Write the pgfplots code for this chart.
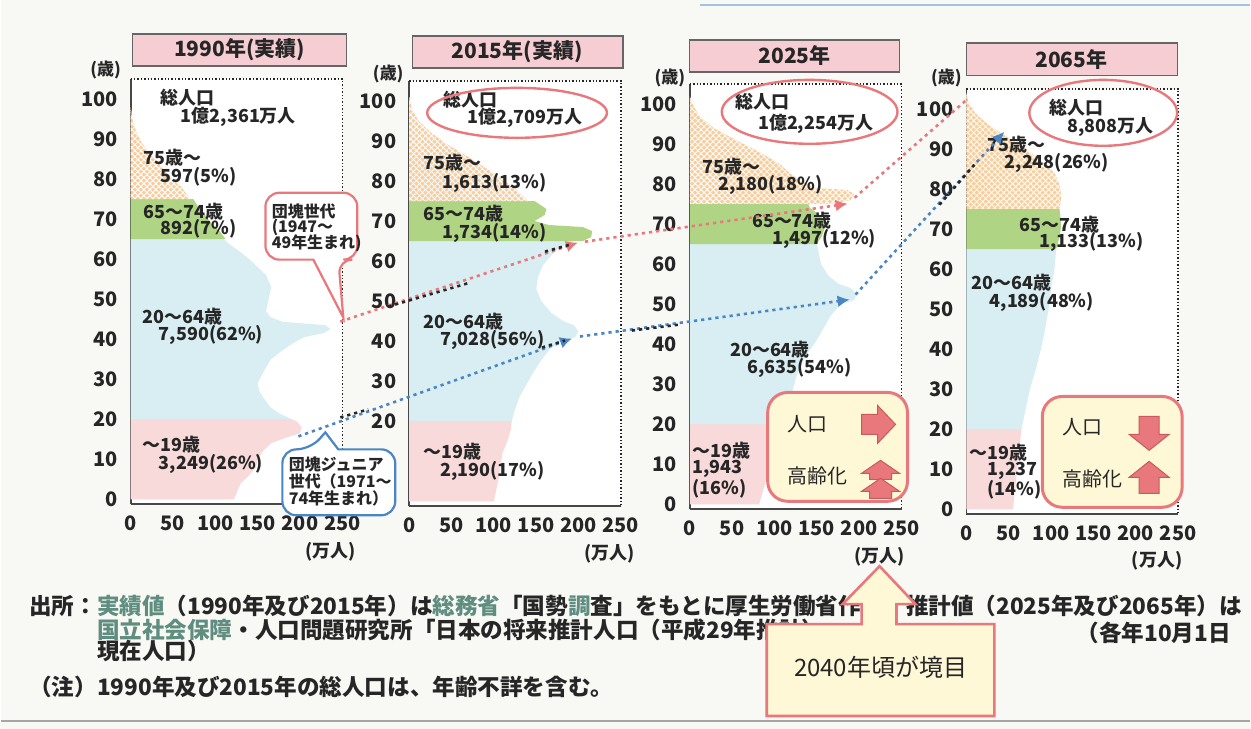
\documentclass[border=0pt]{standalone}
\usepackage{pgfplots}
\pgfplotsset{compat=1.18}
\usepackage{fontspec}
\setmainfont{Noto Sans CJK JP}
\usetikzlibrary{patterns,arrows.meta}
\definecolor{cPink}{HTML}{F9DADB}
\definecolor{cBlue}{HTML}{D8EEF2}
\definecolor{cGreen}{HTML}{AFD584}
\definecolor{cOrange}{HTML}{F8CE9E}
\definecolor{cRed}{HTML}{E8787C}
\definecolor{cRedD}{HTML}{C85A5E}
\definecolor{cArrBlue}{HTML}{4A86C4}
\definecolor{cTitle}{HTML}{F6CDD3}
\definecolor{cYellow}{HTML}{FFF8D6}
\definecolor{cTeal}{HTML}{5F8E80}
\definecolor{cBg}{HTML}{F8F8F5}
\definecolor{cText}{HTML}{262626}
\newcommand{\af}{\fontsize{9}{10}\selectfont\bfseries}
\newcommand{\bff}{\fontsize{8}{9.5}\selectfont\bfseries}
\newcommand{\ff}{\fontsize{11.3}{13}\selectfont\bfseries}
\pgfplotsset{
  pyr/.style={
    scale only axis, width=106pt, height=213pt,
    xmin=0, xmax=250, ymin=-1.25, ymax=105,
    xtick={0,50,...,250}, ytick={0,10,...,100},
    axis x line*=bottom, axis y line*=left,
    axis line style={-, line width=0.9pt, color=cText!85},
    tick style={draw=none},
    /pgf/number format/assume math mode=true,
    ticklabel style={font=\fontsize{10}{12}\selectfont\bfseries, text=cText},
    yticklabel style={xshift=-3pt},
    xticklabel style={yshift=-2pt},
    clip=false,
    axis background/.style={fill=white},
  },
  grp/.style={fill=#1, draw=none},
  orng/.style={fill=cOrange, draw=none, postaction={pattern=crosshatch, pattern color=white}},
}
\begin{document}
\begin{tikzpicture}
\begin{scope}[x=0.5pt,y=-0.5pt]
\fill[cBg] (0,0) rectangle (1251,730);
\draw[cArrBlue!50, line width=1pt] (700,5) -- (1251,5);
\draw[gray!70, line width=0.8pt] (0,722) -- (1251,722);
% title boxes
\draw[fill=cTitle, draw=gray!80!black, line width=0.6pt] (132,34) rectangle (346,66);
\node[font=\fontsize{10.5}{12}\selectfont\bfseries, text=cText] at (239,50) {1990年(実績)};
\draw[fill=cTitle, draw=gray!80!black, line width=0.6pt] (412,36) rectangle (623,68);
\node[font=\fontsize{10.5}{12}\selectfont\bfseries, text=cText] at (517,52) {2015年(実績)};
\draw[fill=cTitle, draw=gray!80!black, line width=0.6pt] (690,40) rectangle (900,72);
\node[font=\fontsize{10.5}{12}\selectfont\bfseries, text=cText] at (795,56) {2025年};
\draw[fill=cTitle, draw=gray!80!black, line width=0.6pt] (967,43) rectangle (1178,76);
\node[font=\fontsize{10.5}{12}\selectfont\bfseries, text=cText] at (1072,60) {2065年};
\end{scope}

% ---------- 1990 ----------
\begin{axis}[pyr, at={(65pt,-252.5pt)}, anchor=south west]
\addplot[grp=cPink] coordinates {(0,0)(122,0)(126,2)(130,4)(140,6)(148,8)(150,10)(156,12)(166,14)(185,15.5)(200,16.5)(202,18)(196,19.5)(190,20)(0,20)} -- cycle;
\addplot[grp=cBlue] coordinates {(0,20)(190,20)(175,21.5)(165,23)(158,25)(152,27)(150,29)(155,31)(160,33)(166,35)(178,37)(192,39)(205,40.5)(228,41.5)(236,42.5)(230,43.5)(180,44.3)(165,45.5)(160,47)(163,50)(166,53)(160,56)(150,58)(140,60)(128,62)(115,64)(110,65)(0,65)} -- cycle;
\addplot[grp=cGreen] coordinates {(0,65)(112,65)(105,67)(95,69)(88,71)(80,73)(74,75)(0,75)} -- cycle;
\addplot[orng] coordinates {(0,75)(70,75)(60,78)(48,80)(36,83)(24,86)(13,89)(6,92)(2,95)(0,98)} -- cycle;
\draw[densely dotted, line width=0.7pt, cText] (axis cs:0,105) -- (axis cs:250,105) -- (axis cs:250,-1.25);
\end{axis}

% ---------- 2015 (labels 0 and 10 hidden by the callout in the original) ----------
\begin{axis}[pyr, at={(204.5pt,-253.5pt)}, anchor=south west, ytick={20,30,...,100}]
\addplot[grp=cPink] coordinates {(0,0)(100,0)(103,3)(106,6)(108,9)(110,12)(116,15)(120,18)(121,20)(0,20)} -- cycle;
\addplot[grp=cBlue] coordinates {(0,20)(121,20)(125,23)(130,26)(138,29)(146,32)(155,35)(166,38)(180,40)(196,41)(200,42.5)(194,44)(182,45)(168,47)(156,50)(150,53)(152,56)(158,59)(166,61)(175,63)(188,64.5)(195,65)(0,65)} -- cycle;
\addplot[grp=cGreen] coordinates {(0,65)(205,65)(215,66)(216,67.5)(205,68.5)(165,69)(148,70)(160,71.5)(162,73)(148,75)(0,75)} -- cycle;
\addplot[orng] coordinates {(0,75)(140,75)(126,78)(112,80)(92,83)(70,86)(46,89)(26,92)(11,95)(3,98)(0,101)} -- cycle;
\draw[densely dotted, line width=0.7pt, cText] (axis cs:0,105) -- (axis cs:250,105) -- (axis cs:250,-1.25);
\end{axis}

% ---------- 2025 ----------
\begin{axis}[pyr, at={(345pt,-255pt)}, anchor=south west]
\addplot[grp=cPink] coordinates {(0,0)(82,0)(86,3)(90,6)(95,9)(100,12)(104,15)(107,18)(110,20)(0,20)} -- cycle;
\addplot[grp=cBlue] coordinates {(0,20)(110,20)(114,23)(118,26)(122,29)(126,32)(132,35)(140,38)(150,41)(158,44)(166,47)(178,50)(194,51)(197,52.5)(190,54)(176,55)(164,57)(155,60)(152,63)(150,65)(0,65)} -- cycle;
\addplot[grp=cGreen] coordinates {(0,65)(150,65)(156,67)(160,69.5)(155,72)(142,74)(140,75)(0,75)} -- cycle;
\addplot[orng] coordinates {(0,75)(165,75)(190,76)(194,77.5)(186,78.5)(148,79)(135,80.5)(122,82)(106,85)(82,88)(54,91)(28,94)(11,97)(3,100)(0,102)} -- cycle;
\draw[densely dotted, line width=0.7pt, cText] (axis cs:0,105) -- (axis cs:250,105) -- (axis cs:250,-1.25);
\end{axis}

% ---------- 2065 ----------
\begin{axis}[pyr, at={(483.5pt,-257.5pt)}, anchor=south west]
\addplot[grp=cPink] coordinates {(0,0)(55,0)(57,4)(59,8)(61,12)(63,16)(65,20)(0,20)} -- cycle;
\addplot[grp=cBlue] coordinates {(0,20)(65,20)(70,25)(75,30)(82,35)(88,40)(93,45)(97,50)(100,55)(104,60)(106,65)(0,65)} -- cycle;
\addplot[grp=cGreen] coordinates {(0,65)(106,65)(110,68)(112,71)(110,75)(0,75)} -- cycle;
\addplot[orng] coordinates {(0,75)(110,75)(112,78)(110,81)(104,84)(88,87)(70,90)(48,93)(26,96)(10,99)(2,102)(0,104)} -- cycle;
\draw[densely dotted, line width=0.7pt, cText] (axis cs:0,105) -- (axis cs:250,105) -- (axis cs:250,-1.25);
\end{axis}

\begin{scope}[x=0.5pt,y=-0.5pt, every node/.style={inner sep=0pt, text=cText}]
% axis unit labels
\foreach \xx/\yy in {105/70, 388/74, 670/78, 947/78} {\node[font=\fontsize{8.5}{10}\selectfont\bfseries] at (\xx,\yy) {(歳)};}
\foreach \xx/\yy in {330/553, 610/555, 880/558, 1158/562} {\node[font=\fontsize{9}{10}\selectfont\bfseries] at (\xx,\yy) {(万人)};}

% 1990 annotations
\node[anchor=west, font=\af] at (160,98) {総人口};
\node[anchor=west, font=\af] at (180,117) {1億2,361万人};
\node[anchor=west, font=\af] at (143,158) {75歳～};
\node[anchor=west, font=\af] at (160,177) {597(5\%)};
\node[anchor=west, font=\af] at (143,212) {65～74歳};
\node[anchor=west, font=\af] at (160,229) {892(7\%)};
\node[anchor=west, font=\af] at (142,317) {20～64歳};
\node[anchor=west, font=\af] at (158,335) {7,590(62\%)};
\node[anchor=west, font=\af] at (142,445) {～19歳};
\node[anchor=west, font=\af] at (158,465) {3,249(26\%)};
% 2015
\node[anchor=west, font=\af] at (443,100) {総人口};
\node[anchor=west, font=\af] at (467,118) {1億2,709万人};
\node[anchor=west, font=\af] at (423,163) {75歳～};
\node[anchor=west, font=\af] at (442,183) {1,613(13\%)};
\node[anchor=west, font=\af] at (423,214) {65～74歳};
\node[anchor=west, font=\af] at (442,233) {1,734(14\%)};
\node[anchor=west, font=\af] at (423,322) {20～64歳};
\node[anchor=west, font=\af] at (440,340) {7,028(56\%)};
\node[anchor=west, font=\af] at (423,452) {～19歳};
\node[anchor=west, font=\af] at (440,472) {2,190(17\%)};
% 2025
\node[anchor=west, font=\af] at (735,102) {総人口};
\node[anchor=west, font=\af] at (758,124) {1億2,254万人};
\node[anchor=west, font=\af] at (702,167) {75歳～};
\node[anchor=west, font=\af] at (718,185) {2,180(18\%)};
\node[anchor=west, font=\af] at (752,221) {65～74歳};
\node[anchor=west, font=\af] at (772,239) {1,497(12\%)};
\node[anchor=west, font=\af] at (730,350) {20～64歳};
\node[anchor=west, font=\af] at (747,368) {6,635(54\%)};
\node[anchor=west, font=\af] at (692,451) {～19歳};
\node[anchor=west, font=\af] at (692,470) {1,943};
\node[anchor=west, font=\af] at (692,489) {(16\%)};
% 2065
\node[anchor=west, font=\af] at (1050,108) {総人口};
\node[anchor=west, font=\af] at (1068,127) {8,808万人};
\node[anchor=west, font=\af] at (988,145) {75歳～};
\node[anchor=west, font=\af] at (1005,163) {2,248(26\%)};
\node[anchor=west, font=\af] at (1020,225) {65～74歳};
\node[anchor=west, font=\af] at (1040,242) {1,133(13\%)};
\node[anchor=west, font=\af] at (972,283) {20～64歳};
\node[anchor=west, font=\af] at (990,302) {4,189(48\%)};
\node[anchor=west, font=\af] at (970,453) {～19歳};
\node[anchor=west, font=\af] at (988,472) {1,237};
\node[anchor=west, font=\af] at (988,490) {(14\%)};

% ellipses
\draw[cRed, line width=1.2pt] (517,113) ellipse [x radius=90, y radius=25];
\draw[cRed, line width=1.2pt] (810,112) ellipse [x radius=88, y radius=32];
\draw[cRed, line width=1.2pt] (1104,113) ellipse [x radius=74, y radius=33];

% dotted cohort arrows
\draw[cRed, line width=1.3pt, dash pattern=on 1.6pt off 2pt, -{Latex[length=6pt,width=6pt]}] (340,322) -- (578,243);
\draw[cRed, line width=1.3pt, dash pattern=on 1.6pt off 2pt, -{Latex[length=6pt,width=6pt]}] (585,242) -- (848,204);
\draw[cRed, line width=1.3pt, dash pattern=on 1.6pt off 2pt] (855,198) -- (966,101);
\draw[cArrBlue, line width=1.3pt, dash pattern=on 1.6pt off 2pt, -{Latex[length=6pt,width=6pt]}] (298,437) -- (572,339);
\draw[cArrBlue, line width=1.3pt, dash pattern=on 1.6pt off 2pt, -{Latex[length=6pt,width=6pt]}] (580,337) -- (850,300);
\draw[cArrBlue, line width=1.3pt, dash pattern=on 1.6pt off 2pt, -{Latex[length=6pt,width=6pt]}] (856,295) -- (1005,132);
\draw[cText, line width=1.3pt, dash pattern=on 1.6pt off 2pt] (388,307) -- (470,283);
\draw[cText, line width=1.3pt, dash pattern=on 1.6pt off 2pt] (545,252) -- (570,245);
\draw[cText, line width=1.3pt, dash pattern=on 1.6pt off 2pt] (340,418) -- (368,410);
\draw[cText, line width=1.3pt, dash pattern=on 1.6pt off 2pt] (542,348) -- (565,341);
\draw[cText, line width=1.3pt, dash pattern=on 1.6pt off 2pt] (632,331) -- (680,325);
\draw[cText, line width=1.3pt, dash pattern=on 1.6pt off 2pt] (940,205) -- (975,165);

% callout 団塊世代
\draw[rounded corners=7, fill=white, draw=cRed, line width=1.1pt] (265,193) -- (357,193) -- (357,260) -- (338,260) [sharp corners] -- (343,318) -- (313,260) [rounded corners=7] -- (265,260) -- cycle;
\node[anchor=west, font=\bff] at (271,212) {団塊世代};
\node[anchor=west, font=\bff] at (271,228) {(1947～};
\node[anchor=west, font=\bff] at (271,244) {49年生まれ)};
% callout 団塊ジュニア
\draw[rounded corners=7, fill=white, draw=cArrBlue, line width=1.1pt] (282,450) -- (310,450) [sharp corners] -- (325,433) -- (338,450) [rounded corners=7] -- (395,450) -- (395,516) -- (282,516) -- cycle;
\node[anchor=west, font=\bff] at (288,465) {団塊ジュニア};
\node[anchor=west, font=\bff] at (288,482) {世代（1971～};
\node[anchor=west, font=\bff] at (288,499) {74年生まれ）};

% legend boxes
\draw[rounded corners=10, fill=cYellow, draw=cRed, line width=1.5pt] (768,393) rectangle (908,502);
\node[anchor=west, font=\fontsize{10}{12}\selectfont] at (787,425) {人口};
\node[anchor=west, font=\fontsize{10}{12}\selectfont] at (787,477) {高齢化};
\draw[fill=cRed, draw=cRedD, line width=0.5pt] (862,415) -- (878,415) -- (878,406) -- (896,425) -- (878,444) -- (878,435) -- (862,435) -- cycle;
\draw[fill=cRed, draw=cRedD, line width=0.5pt] (870,480) -- (870,474) -- (862,474) -- (881,461) -- (900,474) -- (892,474) -- (892,480) -- cycle;
\draw[fill=cRed, draw=cRedD, line width=0.5pt] (870,499) -- (870,492) -- (862,492) -- (881,479) -- (900,492) -- (892,492) -- (892,499) -- cycle;

\draw[rounded corners=10, fill=cYellow, draw=cRed, line width=1.5pt] (1043,397) rectangle (1183,508);
\node[anchor=west, font=\fontsize{10}{12}\selectfont] at (1063,428) {人口};
\node[anchor=west, font=\fontsize{10}{12}\selectfont] at (1063,480) {高齢化};
\draw[fill=cRed, draw=cRedD, line width=0.5pt] (1140,417) -- (1160,417) -- (1160,435) -- (1170,435) -- (1150,451) -- (1130,435) -- (1140,435) -- cycle;
\draw[fill=cRed, draw=cRedD, line width=0.5pt] (1140,494) -- (1140,478) -- (1130,478) -- (1150,462) -- (1170,478) -- (1160,478) -- (1160,494) -- cycle;

% footnotes
\node[anchor=west, font=\ff] at (28,607) {出所：};
\node[anchor=west, font=\ff] at (96,607) {\textcolor{cTeal}{実績値}（1990年及び2015年）は\textcolor{cTeal}{総務省}「国勢\textcolor{cTeal}{調}査」をもとに厚生労働省作成、推計値（2025年及び2065年）は};
\node[anchor=west, font=\ff] at (96,631) {\textcolor{cTeal}{国立社会保障}・人口問題研究所「日本の将来推計人口（平成29年推計）」};
\node[anchor=east, font=\ff] at (1232,634) {（各年10月1日};
\node[anchor=west, font=\ff] at (96,652) {現在人口）};
\node[anchor=west, font=\ff] at (28,688) {（注）};
\node[anchor=west, font=\ff] at (96,688) {1990年及び2015年の総人口は、年齢不詳を含む。};

% bottom callout
\draw[fill=cYellow, draw=cRed, line width=1.3pt] (767,625) -- (862,625) -- (862,605) -- (843,605) -- (880,567) -- (916,605) -- (897,605) -- (897,625) -- (995,625) -- (995,717) -- (767,717) -- cycle;
\node[font=\fontsize{12}{14}\selectfont] at (881,668) {2040年頃が境目};
\end{scope}
\end{tikzpicture}
\end{document}
